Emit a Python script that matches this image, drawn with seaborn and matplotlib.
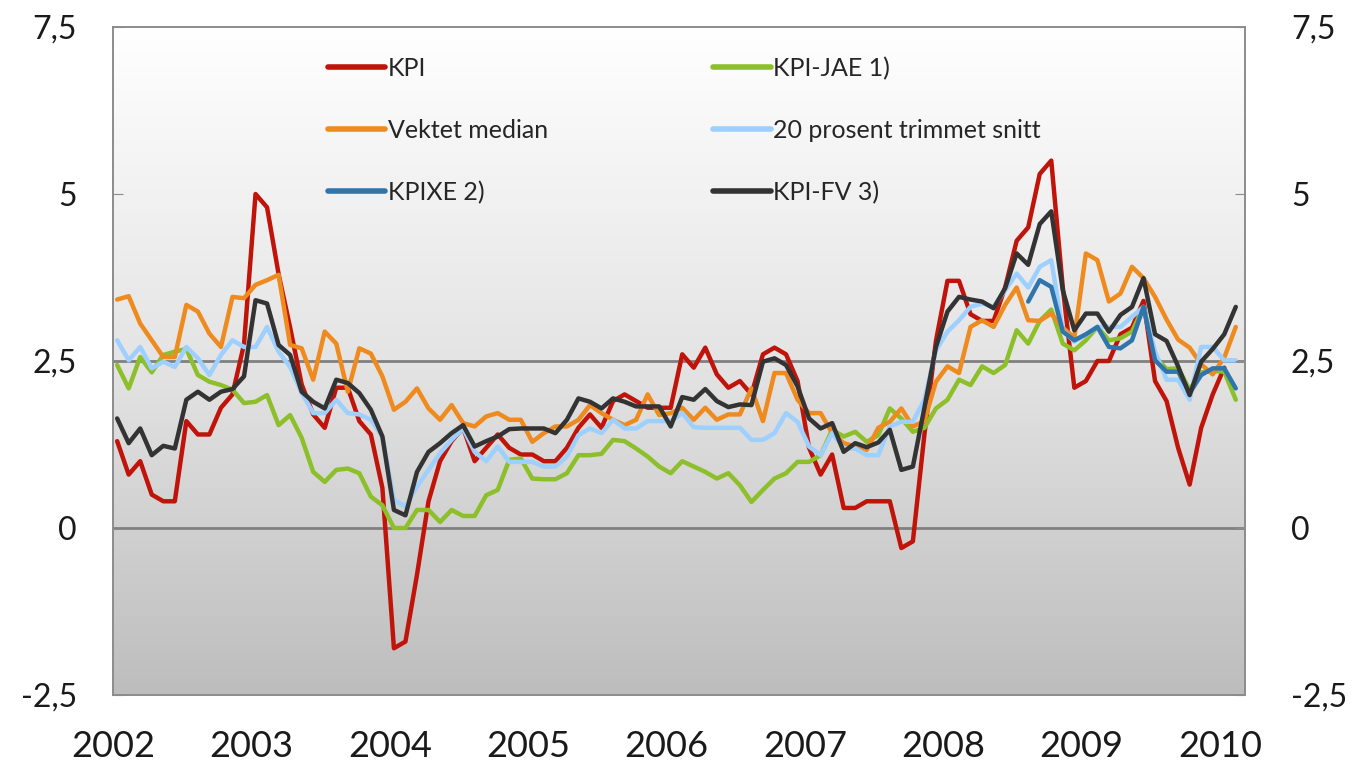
import matplotlib
matplotlib.use("Agg")
import matplotlib.pyplot as plt
import numpy as np
import pandas as pd
import seaborn as sns
from matplotlib import font_manager
from matplotlib.colors import LinearSegmentedColormap

# --- data: 12-month change, per cent, monthly Jan 2002 - Feb 2010 ---
months = pd.date_range("2002-01-01", "2010-02-01", freq="MS")

kpi = [1.3, 0.8, 1.0, 0.5, 0.4, 0.4, 1.6, 1.4, 1.4, 1.8, 2.0, 2.75,
       5.0, 4.8, 3.8, 3.0, 2.15, 1.7, 1.5, 2.1, 2.1, 1.6, 1.4, 0.6,
       -1.8, -1.7, -0.7, 0.4, 1.0, 1.3, 1.5, 1.0, 1.2, 1.4, 1.2, 1.1,
       1.1, 1.0, 1.0, 1.2, 1.5, 1.7, 1.5, 1.9, 2.0, 1.9, 1.8, 1.8,
       1.8, 2.6, 2.4, 2.7, 2.3, 2.1, 2.2, 2.0, 2.6, 2.7, 2.6, 2.2,
       1.2, 0.8, 1.1, 0.3, 0.3, 0.4, 0.4, 0.4, -0.3, -0.2, 1.4, 2.8,
       3.7, 3.7, 3.2, 3.1, 3.1, 3.6, 4.3, 4.5, 5.3, 5.5, 3.6, 2.1,
       2.2, 2.5, 2.5, 2.9, 3.0, 3.4, 2.2, 1.9, 1.2, 0.65, 1.5, 2.0,
       2.4]

kpi_jae = [2.44, 2.09, 2.56, 2.33, 2.59, 2.64, 2.68, 2.29, 2.19, 2.14, 2.07, 1.87,
           1.89, 1.99, 1.54, 1.69, 1.35, 0.84, 0.69, 0.87, 0.89, 0.82, 0.47, 0.34,
           0.0, 0.0, 0.27, 0.27, 0.09, 0.27, 0.18, 0.18, 0.49, 0.57, 1.02, 1.04,
           0.74, 0.73, 0.73, 0.82, 1.09, 1.09, 1.11, 1.32, 1.30, 1.19, 1.07, 0.92,
           0.82, 1.0, 0.92, 0.84, 0.74, 0.82, 0.64, 0.39, 0.57, 0.74, 0.82, 0.99,
           0.99, 1.09, 1.47, 1.37, 1.44, 1.29, 1.39, 1.79, 1.64, 1.44, 1.5, 1.79,
           1.92, 2.22, 2.14, 2.42, 2.32, 2.44, 2.96, 2.76, 3.1, 3.27, 2.76, 2.66,
           2.81, 3.01, 2.81, 2.84, 2.94, 3.31, 2.56, 2.38, 2.39, 2.07, 2.33, 2.35,
           2.34, 1.92]

vektet_median = [3.42, 3.47, 3.06, 2.81, 2.56, 2.56, 3.34, 3.24, 2.91, 2.71, 3.46, 3.44,
                 3.64, 3.71, 3.79, 2.74, 2.69, 2.22, 2.94, 2.76, 2.04, 2.69, 2.61, 2.27,
                 1.77, 1.89, 2.09, 1.79, 1.62, 1.84, 1.57, 1.52, 1.67, 1.72, 1.62, 1.62,
                 1.29, 1.42, 1.52, 1.52, 1.62, 1.84, 1.72, 1.62, 1.54, 1.62, 2.0, 1.69,
                 1.72, 1.8, 1.62, 1.8, 1.62, 1.7, 1.7, 2.09, 1.6, 2.32, 2.32, 1.92,
                 1.72, 1.72, 1.42, 1.27, 1.22, 1.17, 1.5, 1.59, 1.79, 1.52, 1.6, 2.19,
                 2.42, 2.32, 3.01, 3.11, 3.01, 3.34, 3.6, 3.11, 3.1, 3.21, 3.0, 2.85,
                 4.11, 4.01, 3.39, 3.51, 3.91, 3.74, 3.46, 3.12, 2.82, 2.7, 2.45, 2.3,
                 2.55, 3.01]

trimmet_snitt = [2.81, 2.51, 2.71, 2.39, 2.49, 2.41, 2.71, 2.54, 2.29, 2.59, 2.81, 2.71,
                 2.71, 3.01, 2.64, 2.41, 2.02, 1.72, 1.72, 1.92, 1.72, 1.7, 1.62, 1.37,
                 0.42, 0.32, 0.62, 0.87, 1.12, 1.32, 1.49, 1.14, 1.0, 1.22, 0.99, 0.99,
                 0.99, 0.92, 0.92, 1.07, 1.39, 1.49, 1.42, 1.62, 1.49, 1.49, 1.6, 1.6,
                 1.6, 1.72, 1.51, 1.5, 1.5, 1.5, 1.5, 1.32, 1.32, 1.42, 1.72, 1.59,
                 1.22, 1.09, 1.42, 1.19, 1.19, 1.09, 1.09, 1.52, 1.59, 1.59, 1.92, 2.66,
                 2.94, 3.11, 3.31, 3.36, 3.31, 3.56, 3.81, 3.6, 3.91, 4.01, 2.96, 2.79,
                 2.89, 3.01, 3.01, 3.01, 3.16, 3.31, 2.64, 2.22, 2.22, 1.92, 2.71, 2.71,
                 2.51, 2.51]

# KPIXE from Aug 2008
kpixe = [3.39, 3.71, 3.61, 2.94, 2.81, 2.9, 3.01, 2.71, 2.69, 2.81, 3.31, 2.51,
         2.34, 2.34, 2.02, 2.29, 2.39, 2.39, 2.09]

kpi_fv = [1.64, 1.27, 1.49, 1.09, 1.23, 1.19, 1.92, 2.04, 1.92, 2.04, 2.08, 2.27,
          3.41, 3.36, 2.74, 2.59, 2.04, 1.89, 1.79, 2.22, 2.17, 2.02, 1.77, 1.37,
          0.27, 0.19, 0.84, 1.14, 1.27, 1.42, 1.54, 1.22, 1.3, 1.37, 1.48, 1.49,
          1.49, 1.49, 1.42, 1.62, 1.94, 1.89, 1.79, 1.94, 1.89, 1.82, 1.82, 1.82,
          1.52, 1.96, 1.92, 2.08, 1.9, 1.81, 1.85, 1.84, 2.49, 2.54, 2.44, 2.12,
          1.64, 1.49, 1.57, 1.14, 1.27, 1.21, 1.28, 1.47, 0.87, 0.92, 1.8, 2.71,
          3.24, 3.46, 3.42, 3.39, 3.29, 3.59, 4.11, 3.94, 4.55, 4.74, 3.56, 2.96,
          3.21, 3.21, 2.94, 3.19, 3.31, 3.74, 2.9, 2.8, 2.42, 1.99, 2.49, 2.68,
          2.9, 3.31]

series = {
    "KPI": pd.Series(kpi, index=months[:len(kpi)]),
    "KPI-JAE 1)": pd.Series(kpi_jae, index=months),
    "Vektet median": pd.Series(vektet_median, index=months),
    "20 prosent trimmet snitt": pd.Series(trimmet_snitt, index=months),
    "KPIXE 2)": pd.Series(kpixe, index=months[-len(kpixe):]),
    "KPI-FV 3)": pd.Series(kpi_fv, index=months),
}
colors = {
    "KPI": "#c0140a",
    "KPI-JAE 1)": "#8cbf2a",
    "Vektet median": "#ee8a1e",
    "20 prosent trimmet snitt": "#9dcfff",
    "KPIXE 2)": "#2f74ab",
    "KPI-FV 3)": "#333333",
}
legend_order = ["KPI", "Vektet median", "KPIXE 2)",
                "KPI-JAE 1)", "20 prosent trimmet snitt", "KPI-FV 3)"]

df = pd.concat(series, names=["serie", "dato"]).rename("verdi").reset_index()
df["x"] = df["dato"].dt.year + (df["dato"].dt.month - 1) / 12 + 0.03

# --- fonts ---
sns.set_style("white")
installed = {f.name for f in font_manager.fontManager.ttflist}
main_font = "Lato" if "Lato" in installed else "DejaVu Sans"
narrow_font = "Liberation Sans Narrow" if "Liberation Sans Narrow" in installed else main_font
plt.rcParams["font.family"] = [main_font, "DejaVu Sans"]

fig = plt.figure(figsize=(13.57, 7.62), dpi=100)
ax = fig.add_axes([113 / 1357, 1 - 695 / 762, 1132 / 1357, 668 / 762])

x0, x1 = 2002.0, 2010.18
y0, y1 = -2.5, 7.5

# gradient background
grad = np.linspace(0, 1, 256).reshape(-1, 1)
bg = LinearSegmentedColormap.from_list("bg", ["#ffffff", "#e4e4e4", "#bdbdbd"])
ax.imshow(grad, extent=[x0, x1, y0, y1], origin="upper", aspect="auto",
          cmap=bg, zorder=0)

ax.axhline(2.5, color="#808080", lw=2, zorder=1)
ax.axhline(0, color="#808080", lw=2, zorder=1)

sns.lineplot(data=df, x="x", y="verdi", hue="serie", hue_order=list(series),
             palette=colors, estimator=None, linewidth=3.2, ax=ax, zorder=3)
handles, labels = ax.get_legend_handles_labels()
ax.get_legend().remove()

ax.set_xlim(x0, x1)
ax.set_ylim(y0, y1)
ax.set_xlabel("")
ax.set_ylabel("")

yticks = [-2.5, 0, 2.5, 5, 7.5]
ylabels = [f"{v:g}".replace(".", ",") for v in yticks]
ax.set_yticks(yticks)
ax.set_yticklabels(ylabels)
ax.set_xticks(range(2002, 2011))
ax.set_xticklabels([str(y) for y in range(2002, 2011)])

ax.tick_params(axis="y", direction="in", length=7, color="#8c8c8c",
               labelsize=23, pad=26, labelcolor="#1a1a1a")
ax.tick_params(axis="x", direction="in", length=7, color="#8c8c8c",
               labelsize=26, pad=25, labelcolor="#1a1a1a")

# right-hand axis, same scale
ax2 = ax.twinx()
ax2.set_ylim(y0, y1)
ax2.set_yticks(yticks)
ax2.set_yticklabels(ylabels)
ax2.tick_params(axis="y", direction="in", length=7, color="#8c8c8c",
                labelsize=23, pad=33, labelcolor="#1a1a1a")
ax2.grid(False)

for a in (ax, ax2):
    for s in a.spines.values():
        s.set_visible(True)
        s.set_color("#8c8c8c")
        s.set_linewidth(1.2)

lookup = dict(zip(labels, handles))
leg = ax2.legend([lookup[k] for k in legend_order], legend_order, ncol=2,
                 loc="upper left", bbox_to_anchor=(0.170, 0.989), frameon=False,
                 handlelength=2.3, handletextpad=0.1, labelspacing=1.55,
                 columnspacing=6.6, prop={"family": [narrow_font, "DejaVu Sans"], "size": 18})
for line in leg.get_lines():
    line.set_linewidth(4)
    line.set_solid_capstyle("round")

fig.savefig("out.png", dpi=100)
